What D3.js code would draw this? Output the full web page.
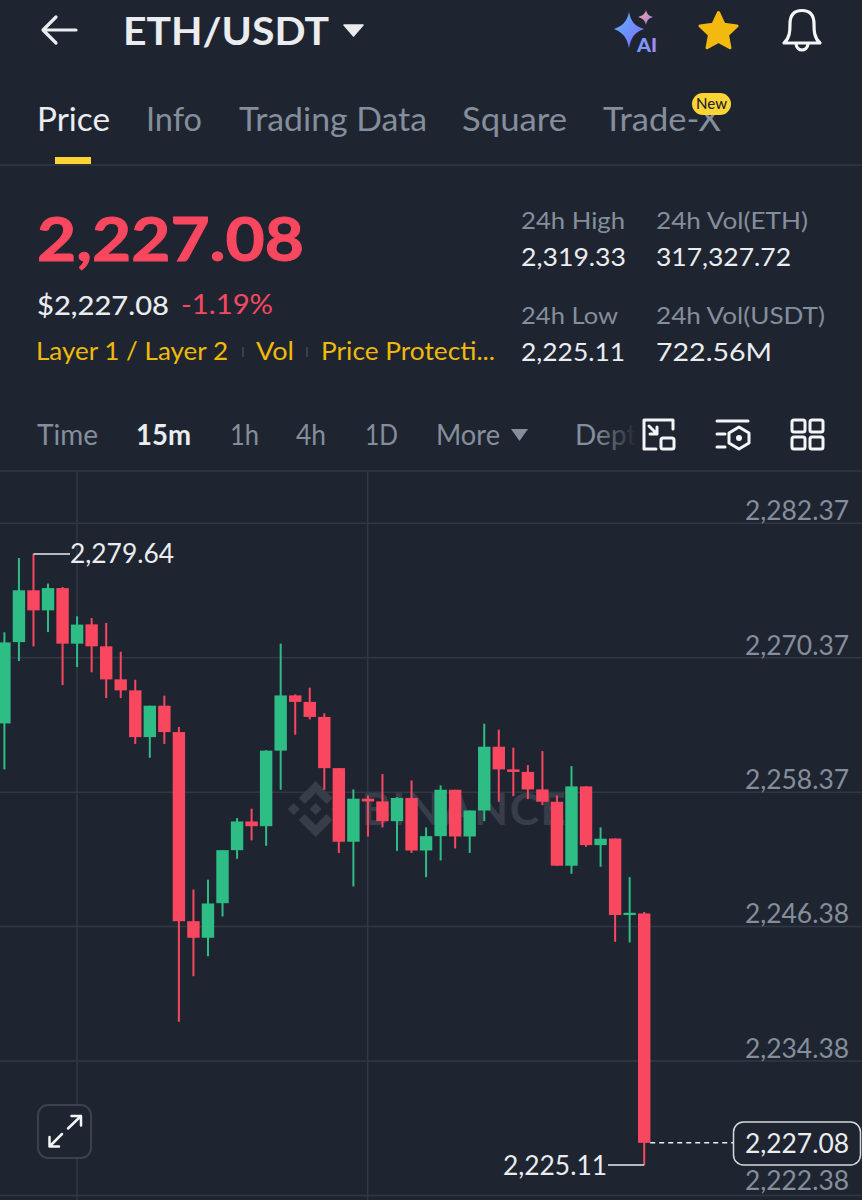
<!DOCTYPE html>
<html lang="en">
<head>
    <meta charset="UTF-8">
    <title>ETH/USDT</title>
    <script src="https://cdnjs.cloudflare.com/ajax/libs/d3/7.8.5/d3.min.js"></script>
    <style>
        html, body { margin: 0; padding: 0; background: #1f2530; }
        svg { display: block; }
        text { font-family: Lato, "Open Sans", sans-serif; }
    </style>
</head>
<body>
<script>
// candles, oldest first
var opens = [2264.51,2271.77,2276.39,2274.60,2276.59,2271.63,2273.35,2271.39,2268.44,2267.46,2263.29,2266.09,2263.74,2246.86,2245.38,2248.47,2253.20,2255.76,2255.34,2262.08,2267.01,2266.43,2265.09,2260.52,2253.95,2257.79,2257.55,2255.79,2257.86,2253.17,2254.45,2258.59,2254.42,2256.74,2262.43,2260.41,2260.18,2258.62,2257.52,2251.81,2258.89,2253.65,2254.24,2247.41,2247.55];
var highs = [2272.64,2279.27,2279.64,2276.99,2276.68,2274.07,2273.91,2273.47,2270.91,2268.41,2266.09,2266.99,2264.18,2249.69,2250.56,2253.20,2256.06,2256.90,2262.12,2271.63,2267.10,2267.70,2265.41,2260.52,2258.62,2258.08,2259.99,2257.93,2259.42,2255.23,2258.98,2258.59,2256.74,2264.49,2263.95,2262.34,2260.79,2262.04,2258.08,2260.70,2258.89,2255.23,2254.24,2250.79,2247.68];
var lows = [2260.41,2270.08,2271.39,2272.66,2267.93,2269.54,2269.07,2266.77,2266.77,2262.68,2261.45,2262.68,2237.88,2241.95,2243.74,2247.28,2252.43,2254.07,2253.59,2258.59,2263.50,2264.87,2258.59,2252.95,2249.96,2254.42,2255.23,2253.14,2252.95,2250.79,2252.28,2253.35,2252.95,2255.79,2257.52,2258.02,2257.75,2257.22,2251.81,2251.09,2253.50,2251.72,2245.02,2244.96,2225.11];
var closes = [2271.74,2276.39,2274.60,2276.59,2271.63,2273.33,2271.39,2268.44,2267.46,2263.29,2266.09,2263.74,2246.86,2245.38,2248.44,2253.20,2255.76,2255.34,2262.08,2267.01,2266.43,2265.09,2260.52,2253.95,2257.79,2257.55,2255.79,2257.86,2253.17,2254.45,2258.59,2254.42,2256.74,2262.43,2260.41,2260.18,2258.62,2257.52,2251.81,2258.89,2253.65,2254.22,2247.41,2247.61,2227.08];

var priceTicks = [2282.37, 2270.37, 2258.37, 2246.38, 2234.38, 2222.38];
var lastPrice = 2227.08;
var highMark = 2279.64;
var lowMark = 2225.11;

var tabs = ["Price", "Info", "Trading Data", "Square", "Trade-X"];
var tags = ["Layer 1 / Layer 2", "Vol", "Price Protecti..."];
var intervals = ["Time", "15m", "1h", "4h", "1D", "More", "Dept"];
var stats = [
    ["24h High", "2,319.33"], ["24h Vol(ETH)", "317,327.72"],
    ["24h Low", "2,225.11"], ["24h Vol(USDT)", "722.56M"]
];

var width = 862;
var height = 1200;
var bg = "#1f2530";
var red = "#fa4760";
var green = "#2ebd85";
var gold = "#f0b90b";
var grey = "#848e9c";
var white = "#eaecef";
var line = "#313843";

var svg = d3.select("body").append("svg")
    .attr("width", width)
    .attr("height", height)
    .attr("viewBox", "0 0 " + width + " " + height);

svg.append("rect").attr("width", width).attr("height", height).attr("fill", bg);

var defs = svg.append("defs");
var g1 = defs.append("linearGradient").attr("id", "aiBlue").attr("x1", 0).attr("y1", 0).attr("x2", 1).attr("y2", 1);
g1.append("stop").attr("offset", "0%").attr("stop-color", "#5fb4ff");
g1.append("stop").attr("offset", "100%").attr("stop-color", "#7d6bff");
var g2 = defs.append("linearGradient").attr("id", "aiPink").attr("x1", 0).attr("y1", 0).attr("x2", 1).attr("y2", 1);
g2.append("stop").attr("offset", "0%").attr("stop-color", "#f0a58c");
g2.append("stop").attr("offset", "100%").attr("stop-color", "#a77cf5");
var g3 = defs.append("linearGradient").attr("id", "fadeDept").attr("x1", 0).attr("y1", 0).attr("x2", 1).attr("y2", 0);
g3.append("stop").attr("offset", "35%").attr("stop-color", grey);
g3.append("stop").attr("offset", "100%").attr("stop-color", bg);
var g4 = defs.append("linearGradient").attr("id", "aiText").attr("x1", 0).attr("y1", 0).attr("x2", 1).attr("y2", 0);
g4.append("stop").attr("offset", "0%").attr("stop-color", "#6b9dff");
g4.append("stop").attr("offset", "100%").attr("stop-color", "#a58bf5");

// w is the width the text takes in the reference
function label(x, y, str, size, color, weight, w, anchor) {
    var t = svg.append("text")
        .attr("x", x).attr("y", y)
        .attr("font-size", size)
        .attr("fill", color)
        .attr("font-weight", weight || 400)
        .attr("text-anchor", anchor || "start")
        .text(str);
    if (w) t.attr("textLength", w).attr("lengthAdjust", "spacingAndGlyphs");
    return t;
}

// scales
var x = d3.scaleLinear().domain([0, opens.length - 1]).range([4.4, 644.2]);
var y = d3.scaleLinear().domain([2282.37, 2222.38]).range([523.3, 1195.5]);
var fmt = d3.format(",.2f");

// header
svg.append("path").attr("d", "M76 30H43M56 17L43 30L56 43")
    .attr("fill", "none").attr("stroke", white).attr("stroke-width", 3.2)
    .attr("stroke-linecap", "round").attr("stroke-linejoin", "round");
label(123, 45, "ETH/USDT", 38, white, 700, 206);
svg.append("path").attr("d", "M344 25H363L353.5 36Z").attr("fill", white)
    .attr("stroke", white).attr("stroke-width", 1.5).attr("stroke-linejoin", "round");

// ai icon
svg.append("path").attr("d", "M629 12C631 22 635 26 644 29C635 32 631 37 629 48C627 37 622 32 614 29C622 26 627 22 629 12Z").attr("fill", "url(#aiBlue)");
svg.append("path").attr("d", "M646 10C647 14 649 16 653 17C649 18 647 20 646 25C645 20 642 18 638 17C642 16 645 14 646 10Z").attr("fill", "url(#aiPink)");
label(637, 52, "AI", 18, "url(#aiText)", 900, 20);

// star
var starPts = d3.range(10).map(function(i) {
    return [i * Math.PI / 5, i % 2 ? 9.5 : 19.5];
});
svg.append("path")
    .attr("d", d3.lineRadial().curve(d3.curveLinearClosed)(starPts))
    .attr("transform", "translate(718.5,32)")
    .attr("fill", "#f3b90f").attr("stroke", "#f3b90f").attr("stroke-width", 3).attr("stroke-linejoin", "round");

// bell
svg.append("path")
    .attr("d", "M784 43C790 38 790 30 790 24C790 14 795 10.5 802 10.5C809 10.5 814 14 814 24C814 30 814 38 820 43Z")
    .attr("fill", "none").attr("stroke", "#f4f5f6").attr("stroke-width", 3.2).attr("stroke-linejoin", "round");
svg.append("path").attr("d", "M796 44C797 52 807 52 808 44")
    .attr("fill", "none").attr("stroke", "#f4f5f6").attr("stroke-width", 3.2);

// tabs
var tabX = [37, 146, 239, 462, 603];
var tabW = [73, 56, 188, 105, 118];
tabs.forEach(function(t, i) {
    label(tabX[i], 131, t, 32, i === 0 ? white : grey, 400, tabW[i]);
});
svg.append("rect").attr("x", 55).attr("y", 157).attr("width", 36).attr("height", 7).attr("fill", "#fcd535");
svg.append("rect").attr("x", 692).attr("y", 93).attr("width", 39).attr("height", 22).attr("rx", 11).attr("fill", "#fcd535");
label(711.5, 109, "New", 15, "#1f2530", 500, null, "middle");
svg.append("line").attr("x1", 0).attr("x2", width).attr("y1", 165).attr("y2", 165).attr("stroke", line).attr("stroke-width", 1.5);

// price block
label(37, 261, fmt(lastPrice), 61, red, 700, 267).attr("stroke", red).attr("stroke-width", 1);
label(37, 315, "$" + fmt(lastPrice), 27, white, 500, 132);
label(181, 314, "-1.19%", 26, red, 400, 92);

var tagX = [36, 256, 321];
var tagW = [192, 38, 174];
tags.forEach(function(t, i) {
    label(tagX[i], 360, t, 25.5, gold, 400, tagW[i]);
});
[243, 307].forEach(function(sx) {
    svg.append("line").attr("x1", sx).attr("x2", sx).attr("y1", 347).attr("y2", 357).attr("stroke", "#3a414d").attr("stroke-width", 2);
});

var statPos = [[521, 229], [656, 229], [521, 324], [656, 324]];
var statW = [[104, 105], [152, 135], [97, 104], [169, 116]];
stats.forEach(function(s, i) {
    label(statPos[i][0], statPos[i][1], s[0], 24, grey, 400, statW[i][0]);
    label(statPos[i][0], statPos[i][1] + 37, s[1], 25.5, white, 400, statW[i][1]);
});

// interval bar
var intervalX = [37, 136, 230, 296, 365, 436, 575];
var intervalW = [61, 55, 29, 30, 33, 64, null];
intervals.forEach(function(t, i) {
    var c = i === 1 ? white : grey;
    if (i === 6) c = "url(#fadeDept)";
    label(intervalX[i], 445, t, 28, c, i === 1 ? 700 : 400, intervalW[i]);
});
svg.append("path").attr("d", "M511 429H528L519.5 441Z").attr("fill", grey);

var iconStyle = function(sel) {
    return sel.attr("fill", "none").attr("stroke", "#f4f5f6").attr("stroke-width", 3).attr("stroke-linecap", "round").attr("stroke-linejoin", "round");
};
iconStyle(svg.append("path")).attr("d", "M656 449H644V420H673V429M649 426L657 434M657 427V434H650");
iconStyle(svg.append("rect")).attr("x", 661).attr("y", 438).attr("width", 13).attr("height", 11).attr("rx", 2);
iconStyle(svg.append("path")).attr("d", "M717 421H748M717 434H725M717 447H725");
iconStyle(svg.append("path")).attr("d", "M739 427L749 433V443L739 449L729 443V433Z");
svg.append("circle").attr("cx", 739).attr("cy", 438).attr("r", 3).attr("fill", "#f4f5f6");
[[792, 420], [810, 420], [792, 437], [810, 437]].forEach(function(p) {
    iconStyle(svg.append("rect")).attr("x", p[0]).attr("y", p[1]).attr("width", 13).attr("height", 12).attr("rx", 2);
});
svg.append("line").attr("x1", 0).attr("x2", width).attr("y1", 471).attr("y2", 471).attr("stroke", line).attr("stroke-width", 1.5);

// grid
[77, 367.7].forEach(function(gx) {
    svg.append("line").attr("x1", gx).attr("x2", gx).attr("y1", 472).attr("y2", height).attr("stroke", line).attr("stroke-width", 1.5);
});
svg.append("g").selectAll("line").data(priceTicks).enter().append("line")
    .attr("x1", 0).attr("x2", width)
    .attr("y1", function(d) { return y(d); })
    .attr("y2", function(d) { return y(d); })
    .attr("stroke", line).attr("stroke-width", 1.5);

// watermark
var wm = svg.append("g").attr("fill", "#373d49").attr("transform", "translate(315.7,809)");
wm.append("path").attr("d", "M0 -28L17 -11L11 -5L0 -16L-11 -5L-17 -11Z");
wm.append("path").attr("d", "M0 28L17 11L11 5L0 16L-11 5L-17 11Z");
[[0, 0], [-22, 0], [22, 0]].forEach(function(d) {
    wm.append("path").attr("d", "M0 -6L6 0L0 6L-6 0Z").attr("transform", "translate(" + d[0] + "," + d[1] + ")");
});
wm.append("text").attr("x", 46).attr("y", 16).attr("font-size", 44).attr("font-weight", 700)
    .attr("textLength", 204).attr("lengthAdjust", "spacing").text("BINANCE");

// candles
var candles = d3.range(opens.length);
var candleColor = function(i) { return closes[i] >= opens[i] ? green : red; };
var bodyWidth = 12.4;

svg.append("g").selectAll("line").data(candles).enter().append("line")
    .attr("x1", function(i) { return x(i); })
    .attr("x2", function(i) { return x(i); })
    .attr("y1", function(i) { return y(highs[i]); })
    .attr("y2", function(i) { return y(lows[i]); })
    .attr("stroke", candleColor).attr("stroke-width", 2);

svg.append("g").selectAll("rect").data(candles).enter().append("rect")
    .attr("x", function(i) { return x(i) - bodyWidth / 2; })
    .attr("y", function(i) { return y(Math.max(opens[i], closes[i])); })
    .attr("width", bodyWidth)
    .attr("height", function(i) { return Math.max(2, Math.abs(y(opens[i]) - y(closes[i]))); })
    .attr("fill", candleColor);

// price axis, labels sit above their grid lines
var axis = d3.axisLeft(y).tickValues(priceTicks).tickSize(0).tickPadding(0).tickFormat(fmt);
var axisG = svg.append("g").attr("transform", "translate(849,0)").call(axis);
axisG.select(".domain").remove();
axisG.selectAll("text")
    .attr("y", function(d, i) { return i === priceTicks.length - 1 ? -15 : -13; })
    .attr("dy", "0.35em")
    .attr("font-size", 26.4).attr("fill", grey)
    .style("font-family", "Lato");

// high / low markers
var hiI = highs.indexOf(highMark);
var loI = lows.indexOf(lowMark);
svg.append("line").attr("x1", x(hiI)).attr("x2", 70).attr("y1", y(highMark)).attr("y2", y(highMark)).attr("stroke", white).attr("stroke-width", 1.5);
label(70, 563, fmt(highMark), 26.4, white, 400);
svg.append("line").attr("x1", 608).attr("x2", x(loI)).attr("y1", y(lowMark)).attr("y2", y(lowMark)).attr("stroke", white).attr("stroke-width", 1.5);
label(607, 1175, fmt(lowMark), 26.4, white, 400, null, "end");

// last price tag
svg.append("line").attr("x1", x(44) + 6).attr("x2", 733).attr("y1", y(lastPrice)).attr("y2", y(lastPrice))
    .attr("stroke", white).attr("stroke-width", 1.5).attr("stroke-dasharray", "5 4");
svg.append("rect").attr("x", 733.5).attr("y", 1122).attr("width", 127).attr("height", 43).attr("rx", 10)
    .attr("fill", bg).attr("stroke", "#d5d9de").attr("stroke-width", 1.5);
label(849, 1153, fmt(lastPrice), 26.4, white, 400, null, "end");

// fullscreen button
svg.append("rect").attr("x", 38).attr("y", 1105).attr("width", 53).attr("height", 53).attr("rx", 10)
    .attr("fill", bg).attr("stroke", "#3b424d").attr("stroke-width", 2);
svg.append("path").attr("d", "M49.5 1146.5L62 1134M49.5 1137V1146.5H59M81 1116L68 1128.5M71.5 1116H81V1125.5")
    .attr("fill", "none").attr("stroke", "#f4f5f6").attr("stroke-width", 2.5).attr("stroke-linecap", "round").attr("stroke-linejoin", "round");
</script>
</body>
</html>
